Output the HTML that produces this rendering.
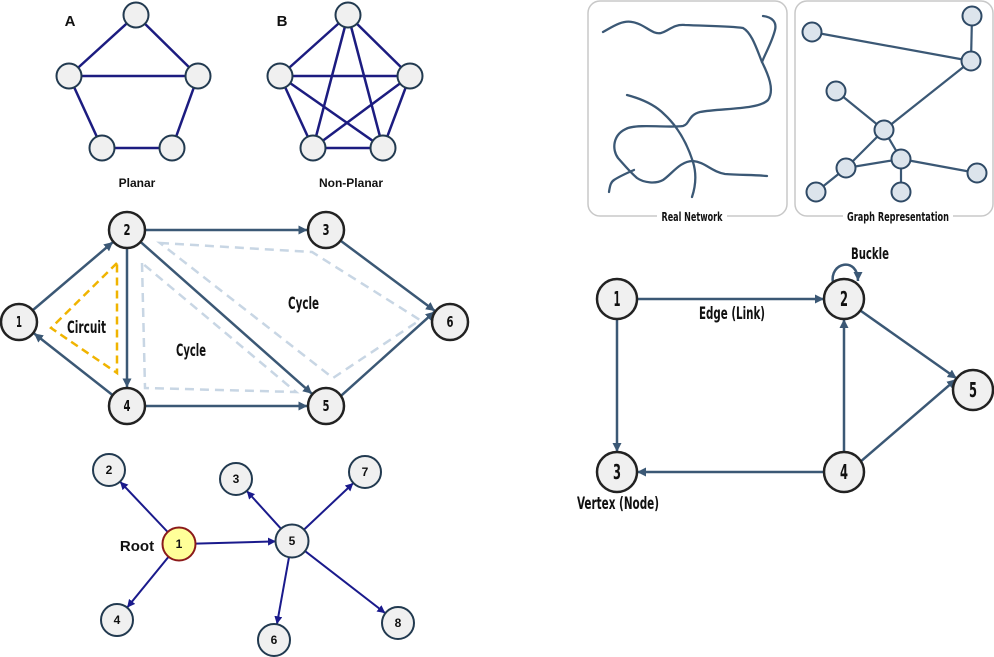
<!DOCTYPE html>
<html><head><meta charset="utf-8"><style>
html,body{margin:0;padding:0;background:#fff;}
svg{display:block;}
.cond{font-family:"Liberation Sans Narrow","DejaVu Sans Condensed","Liberation Sans",sans-serif;font-weight:bold;fill:#111;}
.sans{font-family:"Liberation Sans",sans-serif;font-weight:bold;fill:#111;}
</style></head><body>
<svg width="994" height="657" viewBox="0 0 994 657" xmlns="http://www.w3.org/2000/svg">
<defs>
<marker id="aS" markerUnits="userSpaceOnUse" markerWidth="10" markerHeight="10" refX="9" refY="4.5" orient="auto"><path d="M0,0 L9,4.5 L0,9 z" fill="#3b5875"/></marker>
<marker id="aN" markerUnits="userSpaceOnUse" markerWidth="9" markerHeight="9" refX="8" refY="4" orient="auto"><path d="M0,0 L8,4 L0,8 z" fill="#1a1a8c"/></marker>
</defs>

<!-- Planar A -->
<g stroke="#1c1c80" stroke-width="2.5" fill="none">
<line x1="136" y1="15" x2="69" y2="76"/><line x1="136" y1="15" x2="198" y2="76"/>
<line x1="69" y1="76" x2="198" y2="76"/><line x1="69" y1="76" x2="102" y2="148"/>
<line x1="198" y1="76" x2="172" y2="148"/><line x1="102" y1="148" x2="172" y2="148"/>
</g>
<g fill="#f0f0f0" stroke="#223a50" stroke-width="2">
<circle cx="136" cy="15" r="12.5"/><circle cx="69" cy="76" r="12.5"/><circle cx="198" cy="76" r="12.5"/>
<circle cx="102" cy="148" r="12.5"/><circle cx="172" cy="148" r="12.5"/>
</g>
<text class="sans" x="70" y="26" font-size="15" text-anchor="middle">A</text>
<text class="sans" x="137" y="187" font-size="12" text-anchor="middle">Planar</text>

<!-- Non-planar B -->
<g stroke="#1c1c80" stroke-width="2.5" fill="none">
<line x1="348" y1="15" x2="280" y2="76"/><line x1="348" y1="15" x2="410" y2="76"/>
<line x1="348" y1="15" x2="313" y2="148"/><line x1="348" y1="15" x2="383" y2="148"/>
<line x1="280" y1="76" x2="410" y2="76"/><line x1="280" y1="76" x2="313" y2="148"/>
<line x1="280" y1="76" x2="383" y2="148"/><line x1="410" y1="76" x2="313" y2="148"/>
<line x1="410" y1="76" x2="383" y2="148"/><line x1="313" y1="148" x2="383" y2="148"/>
</g>
<g fill="#f0f0f0" stroke="#223a50" stroke-width="2">
<circle cx="348" cy="15" r="12.5"/><circle cx="280" cy="76" r="12.5"/><circle cx="410" cy="76" r="12.5"/>
<circle cx="313" cy="148" r="12.5"/><circle cx="383" cy="148" r="12.5"/>
</g>
<text class="sans" x="282" y="26" font-size="15" text-anchor="middle">B</text>
<text class="sans" x="351" y="187" font-size="12" text-anchor="middle">Non-Planar</text>

<!-- Middle graph: cycles -->
<polygon points="117,263 51,328 117,373" fill="none" stroke="#f0b400" stroke-width="2.5" stroke-dasharray="8,5"/>
<polygon points="142,263 145,388 296,392" fill="none" stroke="#c8d6e4" stroke-width="2.5" stroke-dasharray="9,6"/>
<polygon points="160,243 312,252 420,320 333,378" fill="none" stroke="#c8d6e4" stroke-width="2.5" stroke-dasharray="9,6"/>

<g stroke="#3b5875" stroke-width="2.5" fill="none" marker-end="url(#aS)">
<line x1="33" y1="310" x2="113" y2="242"/>
<line x1="112" y1="394.6" x2="34" y2="333.4"/>
<line x1="145.5" y1="230" x2="307.5" y2="230"/>
<line x1="127" y1="248.5" x2="127" y2="387.5"/>
<line x1="141" y1="242.3" x2="312" y2="393.8"/>
<line x1="145.5" y1="406" x2="307.5" y2="406"/>
<line x1="341" y1="241" x2="435" y2="311"/>
<line x1="341.3" y1="395.6" x2="434.7" y2="311.6"/>
</g>
<g fill="#f0f0f0" stroke="#222" stroke-width="2.5">
<circle cx="19" cy="322" r="18"/><circle cx="127" cy="230" r="18"/><circle cx="326" cy="230" r="18"/>
<circle cx="127" cy="406" r="18"/><circle cx="326" cy="406" r="18"/><circle cx="450" cy="322" r="18"/>
</g>
<g class="cond" font-size="15">
<text x="16" y="327" textLength="6" lengthAdjust="spacingAndGlyphs">1</text>
<text x="123.5" y="235" textLength="7" lengthAdjust="spacingAndGlyphs">2</text>
<text x="322.5" y="235" textLength="7" lengthAdjust="spacingAndGlyphs">3</text>
<text x="123.5" y="411" textLength="7" lengthAdjust="spacingAndGlyphs">4</text>
<text x="322.5" y="411" textLength="7" lengthAdjust="spacingAndGlyphs">5</text>
<text x="446.5" y="327" textLength="7" lengthAdjust="spacingAndGlyphs">6</text>
</g>
<text class="cond" x="67" y="333" font-size="17" textLength="39" lengthAdjust="spacingAndGlyphs">Circuit</text>
<text class="cond" x="288" y="309" font-size="17" textLength="31" lengthAdjust="spacingAndGlyphs">Cycle</text>
<text class="cond" x="176" y="356" font-size="17" textLength="30" lengthAdjust="spacingAndGlyphs">Cycle</text>

<!-- Tree -->
<g stroke="#1a1a8c" stroke-width="2" fill="none" marker-end="url(#aN)">
<line x1="167.7" y1="532" x2="120" y2="481.6"/>
<line x1="168.6" y1="556.8" x2="127.1" y2="607.6"/>
<line x1="195.5" y1="543.6" x2="276" y2="541.4"/>
<line x1="281.3" y1="529.1" x2="246.7" y2="490.9"/>
<line x1="303.6" y1="530" x2="353.4" y2="483"/>
<line x1="289.1" y1="556.7" x2="276.9" y2="624.3"/>
<line x1="304.7" y1="550.8" x2="385.3" y2="613.2"/>
</g>
<g fill="#f0f0f0" stroke="#223a50" stroke-width="2">
<circle cx="109" cy="470" r="16"/><circle cx="236" cy="479" r="16"/><circle cx="365" cy="472" r="16"/>
<circle cx="292" cy="541" r="16.5"/><circle cx="117" cy="620" r="16"/><circle cx="274" cy="640" r="16"/>
<circle cx="398" cy="623" r="16"/>
</g>
<circle cx="179" cy="544" r="16.5" fill="#ffff99" stroke="#8b1a1a" stroke-width="2"/>
<g class="sans" font-size="12" text-anchor="middle">
<text x="179" y="548">1</text><text x="109" y="474">2</text><text x="236" y="483">3</text>
<text x="365" y="476">7</text><text x="292" y="545">5</text><text x="117" y="624">4</text>
<text x="274" y="644">6</text><text x="398" y="627">8</text>
</g>
<text class="sans" x="137" y="551" font-size="15" text-anchor="middle" font-weight="bold">Root</text>

<!-- Real network box -->
<rect x="588" y="1" width="199" height="215" rx="12" fill="none" stroke="#c8c8c8" stroke-width="1.5"/>
<rect x="657" y="210" width="70" height="14" fill="#fff"/>
<g stroke="#3b5875" stroke-width="2.3" fill="none" stroke-linecap="round">
<path d="M603,32 C612,27 622,20 632,22 C645,24 652,35 661,33 C669,31 673,24 685,25 C705,26 730,26 743,28 C752,33 757,50 762,62 C768,74 775,90 768,100 C758,110 722,108 700,112 C688,115 690,124 683,126 C670,128 640,124 628,128 C612,134 612,150 618,158 C626,167 630,172 637,178 C644,183 656,184 663,180 C672,174 680,161 693,161 C705,162 712,172 725,174 C740,175 758,175 767,176"/>
<path d="M763,16 C772,17 777,22 775,30 C772,42 766,52 762,62"/>
<path d="M627,95 C642,99 655,105 664,114 C676,125 686,140 693,162 C697,175 695,188 692,197"/>
<path d="M609,192 C610,185 611,182 614,180 C620,176 627,173 634,170"/>
</g>
<text class="cond" x="692" y="221" font-size="12" text-anchor="middle" textLength="61" lengthAdjust="spacingAndGlyphs">Real Network</text>

<!-- Graph representation box -->
<rect x="795" y="1" width="198" height="215" rx="12" fill="none" stroke="#c8c8c8" stroke-width="1.5"/>
<rect x="843" y="210" width="110" height="14" fill="#fff"/>
<g stroke="#3b5875" stroke-width="2.2" fill="none">
<line x1="812" y1="32" x2="971" y2="61"/><line x1="972" y1="16" x2="971" y2="61"/>
<line x1="971" y1="61" x2="884" y2="130"/><line x1="836" y1="91" x2="884" y2="130"/>
<line x1="884" y1="130" x2="846" y2="168"/><line x1="884" y1="130" x2="901" y2="159"/>
<line x1="846" y1="168" x2="901" y2="159"/><line x1="846" y1="168" x2="816" y2="192"/>
<line x1="901" y1="159" x2="901" y2="192"/><line x1="901" y1="159" x2="977" y2="173"/>
</g>
<g fill="#dce4ec" stroke="#2f4a66" stroke-width="2">
<circle cx="812" cy="32" r="9.5"/><circle cx="972" cy="16" r="9.5"/><circle cx="971" cy="61" r="9.5"/>
<circle cx="836" cy="91" r="9.5"/><circle cx="884" cy="130" r="9.5"/><circle cx="901" cy="159" r="9.5"/>
<circle cx="846" cy="168" r="9.5"/><circle cx="816" cy="192" r="9.5"/><circle cx="901" cy="192" r="9.5"/>
<circle cx="977" cy="173" r="9.5"/>
</g>
<text class="cond" x="898" y="221" font-size="12" text-anchor="middle" textLength="102" lengthAdjust="spacingAndGlyphs">Graph Representation</text>

<!-- Right directed graph -->
<g stroke="#3b5875" stroke-width="2.5" fill="none" marker-end="url(#aS)">
<line x1="637" y1="299" x2="824" y2="299"/>
<line x1="617" y1="319" x2="617" y2="452"/>
<line x1="824" y1="472" x2="637" y2="472"/>
<line x1="844" y1="452" x2="844" y2="319"/>
<line x1="860.3" y1="310.5" x2="956.7" y2="378.5"/>
<line x1="860.9" y1="461.3" x2="956.1" y2="379.3"/>
<path d="M833,283 C829,262 858,256 858,281"/>
</g>
<g fill="#f0f0f0" stroke="#222" stroke-width="2.5">
<circle cx="617" cy="299" r="20"/><circle cx="844" cy="299" r="20"/><circle cx="617" cy="472" r="20"/>
<circle cx="844" cy="472" r="20"/><circle cx="973" cy="390" r="20"/>
</g>
<g class="cond" font-size="20">
<text x="613.5" y="306" textLength="7" lengthAdjust="spacingAndGlyphs">1</text>
<text x="840" y="306" textLength="8" lengthAdjust="spacingAndGlyphs">2</text>
<text x="613" y="479" textLength="8" lengthAdjust="spacingAndGlyphs">3</text>
<text x="840" y="479" textLength="8" lengthAdjust="spacingAndGlyphs">4</text>
<text x="969" y="397" textLength="8" lengthAdjust="spacingAndGlyphs">5</text>
</g>
<text class="cond" x="851" y="259" font-size="16" textLength="38" lengthAdjust="spacingAndGlyphs">Buckle</text>
<text class="cond" x="699" y="319" font-size="17" textLength="66" lengthAdjust="spacingAndGlyphs">Edge (Link)</text>
<text class="cond" x="577" y="509" font-size="17" textLength="82" lengthAdjust="spacingAndGlyphs">Vertex (Node)</text>
</svg>
</body></html>
